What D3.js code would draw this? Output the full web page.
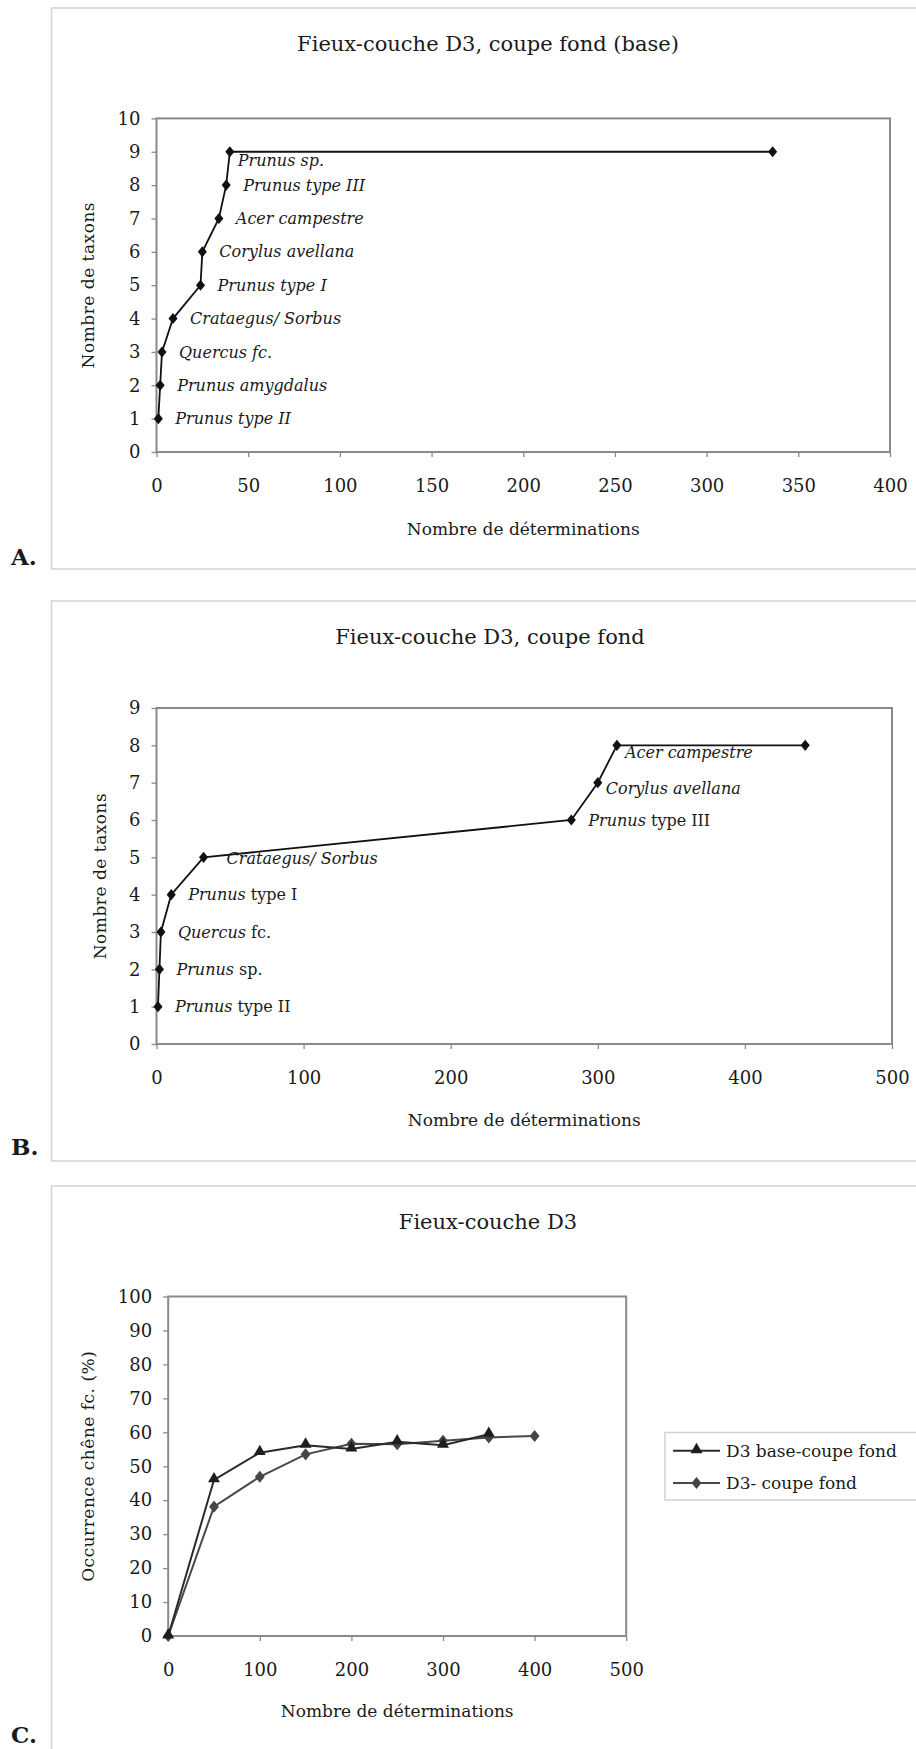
<!DOCTYPE html>
<html>
<head>
<meta charset="utf-8">
<script src="https://cdn.jsdelivr.net/npm/d3@7"></script>
<style>
  html, body { margin: 0; padding: 0; background: #fff; }
  svg { display: block; }
</style>
</head>
<body>
<svg id="chart" width="916" height="1749"></svg>
<script>
// ---------------- DATA ----------------
// Panel A : Fieux-couche D3, coupe fond (base)
const aDeterminations = [1, 2, 3, 9, 24, 25, 34, 38, 40, 336];
const aTaxons         = [1, 2, 3, 4, 5, 6, 7, 8, 9, 9];
const aLabels = ["Prunus type II", "Prunus amygdalus", "Quercus fc.", "Crataegus/ Sorbus",
                 "Prunus type I", "Corylus avellana", "Acer campestre", "Prunus type III",
                 "Prunus sp.", ""];
const aXTicks = [0, 50, 100, 150, 200, 250, 300, 350, 400];
const aYTicks = [0, 1, 2, 3, 4, 5, 6, 7, 8, 9, 10];

// Panel B : Fieux-couche D3, coupe fond
const bDeterminations = [1, 2, 3, 10, 32, 282, 300, 313, 441];
const bTaxons         = [1, 2, 3, 4, 5, 6, 7, 8, 8];
const bLabelsItalic = ["Prunus", "Prunus", "Quercus", "Prunus", "Crataegus/ Sorbus",
                       "Prunus", "Corylus avellana", "Acer campestre", ""];
const bLabelsRoman  = [" type II", " sp.", " fc.", " type I", "", " type III", "", "", ""];
const bXTicks = [0, 100, 200, 300, 400, 500];
const bYTicks = [0, 1, 2, 3, 4, 5, 6, 7, 8, 9];

// Panel C : Fieux-couche D3
const cSeriesNames = ["D3 base-coupe fond", "D3- coupe fond"];
const cX1 = [0, 50, 100, 150, 200, 250, 300, 350];
const cY1 = [0, 46, 54, 56.2, 55.1, 57.2, 56.2, 59.4];
const cX2 = [0, 50, 100, 150, 200, 250, 300, 350, 400];
const cY2 = [0, 38.1, 46.9, 53.5, 56.6, 56.5, 57.5, 58.5, 58.9];
const cXTicks = [0, 100, 200, 300, 400, 500];
const cYTicks = [0, 10, 20, 30, 40, 50, 60, 70, 80, 90, 100];

// ---------------- STYLE / LAYOUT ----------------
const FONT = "'DejaVu Serif', 'Liberation Serif', serif";
const TXT = "#1a1a1a";
const svg = d3.select("#chart");
svg.append("rect").attr("width", 916).attr("height", 1749).attr("fill", "#fff");

// custom Excel-like diamond
const diamond = {
  draw(ctx, size) {
    const h = Math.sqrt(size) * 0.62, w = h * 0.82;
    ctx.moveTo(0, -h); ctx.lineTo(w, 0); ctx.lineTo(0, h); ctx.lineTo(-w, 0); ctx.closePath();
  }
};

function frame(y, h, letter, letterY) {
  svg.append("rect").attr("x", 51.5).attr("y", y).attr("width", 880).attr("height", h)
    .attr("fill", "none").attr("stroke", "#d2d2d2").attr("stroke-width", 1.5);
  svg.append("text").attr("x", 11).attr("y", letterY).text(letter)
    .attr("font-family", FONT).attr("font-weight", "bold").attr("font-size", 23).attr("fill", TXT);
}

function plotBase(o) {
  const g = svg.append("g");
  const x = d3.scaleLinear().domain(o.xDomain).range([o.left, o.right]);
  const y = d3.scaleLinear().domain(o.yDomain).range([o.bottom, o.top]);
  // title
  g.append("text").attr("x", o.titleX).attr("y", o.titleY).attr("text-anchor", "middle")
    .attr("font-family", FONT).attr("font-size", 21).attr("fill", TXT).text(o.title);
  // axes
  const ax = g.append("g").attr("transform", `translate(0,${o.bottom})`)
    .call(d3.axisBottom(x).tickValues(o.xTicks).tickSize(5).tickPadding(22).tickSizeOuter(0));
  const ay = g.append("g").attr("transform", `translate(${o.left},0)`)
    .call(d3.axisLeft(y).tickValues(o.yTicks).tickSize(5).tickPadding(11).tickSizeOuter(0));
  [ax, ay].forEach(a => {
    a.select(".domain").remove();
    a.selectAll(".tick line").attr("stroke", "#8a8a8a").attr("stroke-width", 1.3);
    a.selectAll(".tick text").attr("font-family", FONT).attr("font-size", 18).attr("fill", TXT);
  });
  // plot border
  g.append("rect").attr("x", o.left).attr("y", o.top)
    .attr("width", o.right - o.left).attr("height", o.bottom - o.top)
    .attr("fill", "none").attr("stroke", "#8a8a8a").attr("stroke-width", 2);
  // axis titles
  g.append("text").attr("x", (o.left + o.right) / 2).attr("y", o.xTitleY)
    .attr("text-anchor", "middle").attr("font-family", FONT).attr("font-size", 17)
    .attr("fill", TXT).text("Nombre de déterminations");
  g.append("text").attr("transform", `translate(${o.yTitleX},${(o.top + o.bottom) / 2}) rotate(-90)`)
    .attr("text-anchor", "middle").attr("font-family", FONT).attr("font-size", 17)
    .attr("letter-spacing", 0.5).attr("fill", TXT).text(o.yTitle);
  return { g, x, y };
}

// ---------------- PANEL A ----------------
frame(8, 561, "A.", 565);
{
  const { g, x, y } = plotBase({
    xDomain: [0, 400], yDomain: [0, 10], left: 156.5, right: 890, top: 118.4, bottom: 452,
    xTicks: aXTicks, yTicks: aYTicks, title: "Fieux-couche D3, coupe fond (base)",
    titleX: 488, titleY: 51, xTitleY: 535, yTitleX: 94, yTitle: "Nombre de taxons"
  });
  const pts = aDeterminations.map((d, i) => ({ x: d, y: aTaxons[i], label: aLabels[i] }));
  g.append("path").datum(pts)
    .attr("d", d3.line().x(d => x(d.x)).y(d => y(d.y)))
    .attr("fill", "none").attr("stroke", "#111").attr("stroke-width", 1.8);
  g.selectAll(".m").data(pts).join("path")
    .attr("transform", d => `translate(${x(d.x)},${y(d.y)})`)
    .attr("d", d3.symbol().type(diamond).size(80)).attr("fill", "#111");
  const aOff = { 8: [8, 9] };
  g.selectAll(".lab").data(pts.filter(d => d.label)).join("text")
    .attr("x", (d, i) => x(d.x) + (aOff[i] ? aOff[i][0] : 17))
    .attr("y", (d, i) => y(d.y) + (aOff[i] ? aOff[i][1] : 0))
    .attr("dy", "0.35em").attr("font-family", FONT).attr("font-style", "italic")
    .attr("font-size", 16).attr("fill", TXT).text(d => d.label);
}

// ---------------- PANEL B ----------------
frame(601, 560, "B.", 1155);
{
  const { g, x, y } = plotBase({
    xDomain: [0, 500], yDomain: [0, 9], left: 156.5, right: 892, top: 708, bottom: 1044,
    xTicks: bXTicks, yTicks: bYTicks, title: "Fieux-couche D3, coupe fond",
    titleX: 490, titleY: 644, xTitleY: 1126, yTitleX: 106, yTitle: "Nombre de taxons"
  });
  const pts = bDeterminations.map((d, i) => ({ x: d, y: bTaxons[i], it: bLabelsItalic[i], ro: bLabelsRoman[i] }));
  g.append("path").datum(pts)
    .attr("d", d3.line().x(d => x(d.x)).y(d => y(d.y)))
    .attr("fill", "none").attr("stroke", "#111").attr("stroke-width", 1.8);
  g.selectAll(".m").data(pts).join("path")
    .attr("transform", d => `translate(${x(d.x)},${y(d.y)})`)
    .attr("d", d3.symbol().type(diamond).size(80)).attr("fill", "#111");
  const bOff = { 4: [23, 1], 6: [8, 6], 7: [8, 7] };
  const t = g.selectAll(".lab").data(pts.filter(d => d.it || d.ro)).join("text")
    .attr("x", (d, i) => x(d.x) + (bOff[i] ? bOff[i][0] : 17))
    .attr("y", (d, i) => y(d.y) + (bOff[i] ? bOff[i][1] : 0))
    .attr("dy", "0.35em").attr("font-family", FONT).attr("font-size", 16).attr("fill", TXT);
  t.append("tspan").attr("font-style", "italic").text(d => d.it);
  t.append("tspan").style("white-space", "pre").text(d => d.ro);
}

// ---------------- PANEL C ----------------
frame(1186, 600, "C.", 1743);
{
  const { g, x, y } = plotBase({
    xDomain: [0, 500], yDomain: [0, 100], left: 168.2, right: 626.2, top: 1296.5, bottom: 1636,
    xTicks: cXTicks, yTicks: cYTicks, title: "Fieux-couche D3",
    titleX: 488, titleY: 1229, xTitleY: 1716.5, yTitleX: 94, yTitle: "Occurrence chêne fc. (%)"
  });
  const s1 = cX1.map((d, i) => ({ x: d, y: cY1[i] }));
  const s2 = cX2.map((d, i) => ({ x: d, y: cY2[i] }));
  const line = d3.line().x(d => x(d.x)).y(d => y(d.y));
  const triSym = d3.symbol().type(d3.symbolTriangle).size(62);
  const diaSym = d3.symbol().type(diamond).size(95);
  g.append("path").datum(s2).attr("d", line).attr("fill", "none").attr("stroke", "#484848").attr("stroke-width", 2);
  g.append("path").datum(s1).attr("d", line).attr("fill", "none").attr("stroke", "#2a2a2a").attr("stroke-width", 2);
  g.selectAll(".d2").data(s2).join("path").attr("transform", d => `translate(${x(d.x)},${y(d.y)})`)
    .attr("d", diaSym).attr("fill", "#454545");
  g.selectAll(".d1").data(s1).join("path").attr("transform", d => `translate(${x(d.x)},${y(d.y) - 1})`)
    .attr("d", triSym).attr("fill", "#1e1e1e");

  // legend
  const lg = g.append("g");
  lg.append("rect").attr("x", 665).attr("y", 1432.5).attr("width", 280).attr("height", 67.5)
    .attr("fill", "#fff").attr("stroke", "#d2d2d2").attr("stroke-width", 1.5);
  const items = [
    { name: cSeriesNames[0], sym: triSym, col: "#1e1e1e", lc: "#2a2a2a", yy: 1450.7, off: -1 },
    { name: cSeriesNames[1], sym: diaSym, col: "#454545", lc: "#484848", yy: 1483, off: 0 }
  ];
  items.forEach(it => {
    lg.append("line").attr("x1", 673).attr("x2", 720).attr("y1", it.yy).attr("y2", it.yy)
      .attr("stroke", it.lc).attr("stroke-width", 2);
    lg.append("path").attr("transform", `translate(696.5,${it.yy + it.off})`).attr("d", it.sym).attr("fill", it.col);
    lg.append("text").attr("x", 726).attr("y", it.yy).attr("dy", "0.35em")
      .attr("font-family", FONT).attr("font-size", 17).attr("fill", TXT).text(it.name);
  });
}
</script>
</body>
</html>
